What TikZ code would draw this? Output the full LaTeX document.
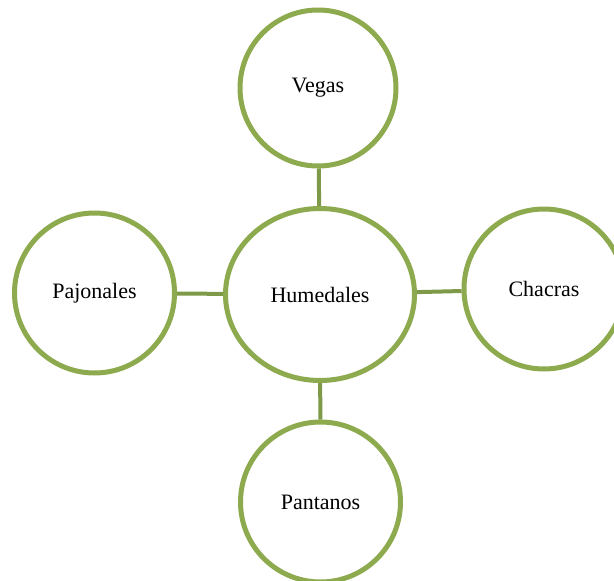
\documentclass[tikz,border=0pt]{standalone}
\usepackage{fontspec}
\setmainfont{Liberation Serif}
\usetikzlibrary{shapes.geometric}
\definecolor{ringgreen}{RGB}{141,170,79}
\definecolor{linkgreen}{RGB}{126,153,71}
\begin{document}
\begin{tikzpicture}[x=1pt,y=-1pt,
  topic/.style={circle, draw=ringgreen, line width=5pt, fill=white, minimum size=158pt, inner sep=0pt, font=\fontsize{22}{26}\selectfont},
  hub/.style={ellipse, draw=ringgreen, line width=5pt, fill=white, minimum width=189pt, minimum height=172pt, inner sep=0pt, font=\fontsize{22}{26}\selectfont},
  link/.style={draw=linkgreen, line width=4pt}]
\useasboundingbox (0,0) rectangle (614,581);
\node[hub] (hum) at (320,294.5){Humedales};
\node[topic, minimum size=156pt] (veg) at (318,88){Vegas};
\node[topic, minimum size=160pt] (paj) at (94.5,293){Pajonales};
\node[topic, minimum size=160pt] (cha) at (544,289){Chacras};
\node[topic, minimum size=160pt] (pan) at (320.5,502){Pantanos};
\draw[link](veg) -- (hum);
\draw[link](paj) -- (hum);
\draw[link](hum) -- (cha);
\draw[link](hum) -- (pan);
\end{tikzpicture}
\end{document}
